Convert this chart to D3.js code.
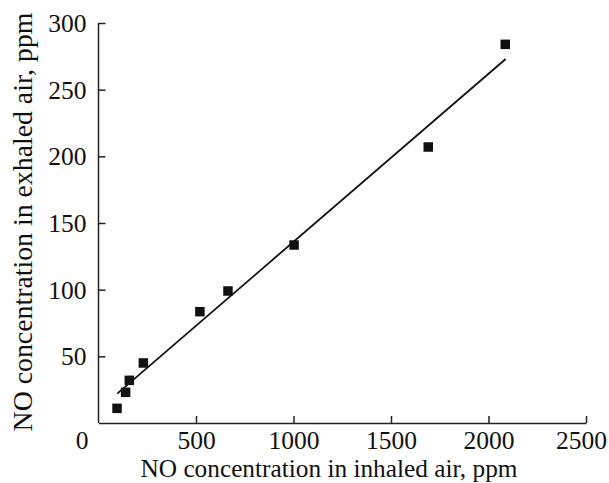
<!DOCTYPE html>
<html><head><meta charset="utf-8">
<script src="https://cdn.jsdelivr.net/npm/d3@7"></script>
<style>body{margin:0;background:#fff}svg{display:block}</style>
</head><body>
<svg id="c" width="609" height="483"></svg>
<script>
const inhaled = [95, 139, 158, 230, 520, 664, 1003, 1691, 2086];
const exhaled = [11, 23, 32, 45, 83.5, 99, 133.5, 207, 284];
const fitX = [96, 2088];
const fitY = [22, 273];
const xTicks = [500, 1000, 1500, 2000, 2500];
const yTicks = [50, 100, 150, 200, 250, 300];

const svg = d3.select("#c");
const font = "'Liberation Serif', 'Times New Roman', serif";
const x = d3.scaleLinear().domain([0, 2500]).range([98.5, 586]);
const y = d3.scaleLinear().domain([0, 300]).range([423, 23]);

const xa = svg.append("g").attr("transform", "translate(0,423)")
  .call(d3.axisBottom(x).tickValues(xTicks).tickFormat(d3.format("d")).tickSizeInner(-7).tickSizeOuter(0).tickPadding(10));
const ya = svg.append("g").attr("transform", "translate(98.5,0)")
  .call(d3.axisLeft(y).tickValues(yTicks).tickFormat(d3.format("d")).tickSizeInner(-7).tickSizeOuter(0).tickPadding(12));
[xa, ya].forEach(a => {
  a.select(".domain").attr("stroke", "#222").attr("stroke-width", 1.5);
  a.selectAll(".tick line").attr("stroke", "#222").attr("stroke-width", 1.5);
  a.selectAll(".tick text").attr("font-family", font).attr("font-size", 25.5).attr("fill", "#111");
});
xa.selectAll(".tick text").attr("dy", null).attr("y", 26);
xa.selectAll(".tick text").filter(d => d === 2500).attr("dx", -5);
ya.selectAll(".tick text").attr("dy", "0.33em");
ya.select(".domain").attr("d", `M0,${y(300)}V${y(0)}`);
svg.append("text").attr("x", 82).attr("y", 449).attr("text-anchor", "middle")
  .attr("font-family", font).attr("font-size", 25.5).attr("fill", "#111").text("0");

svg.append("line")
  .attr("x1", x(fitX[0])).attr("y1", y(fitY[0]))
  .attr("x2", x(fitX[1])).attr("y2", y(fitY[1]))
  .attr("stroke", "#111").attr("stroke-width", 1.8);

const s = 9.5;
svg.selectAll("rect.pt").data(inhaled).join("rect").attr("class", "pt")
  .attr("x", (d) => x(d) - s / 2)
  .attr("y", (d, i) => y(exhaled[i]) - s / 2)
  .attr("width", s).attr("height", s).attr("fill", "#111");

svg.append("text").attr("x", 329).attr("y", 477).attr("text-anchor", "middle")
  .attr("font-family", font).attr("font-size", 25.3).attr("fill", "#111")
  .text("NO concentration in inhaled air, ppm");
svg.append("text").attr("transform", "translate(32,222) rotate(-90)").attr("text-anchor", "middle")
  .attr("font-family", font).attr("font-size", 27.8).attr("fill", "#111")
  .text("NO concentration in exhaled air, ppm");
</script>
</body></html>
